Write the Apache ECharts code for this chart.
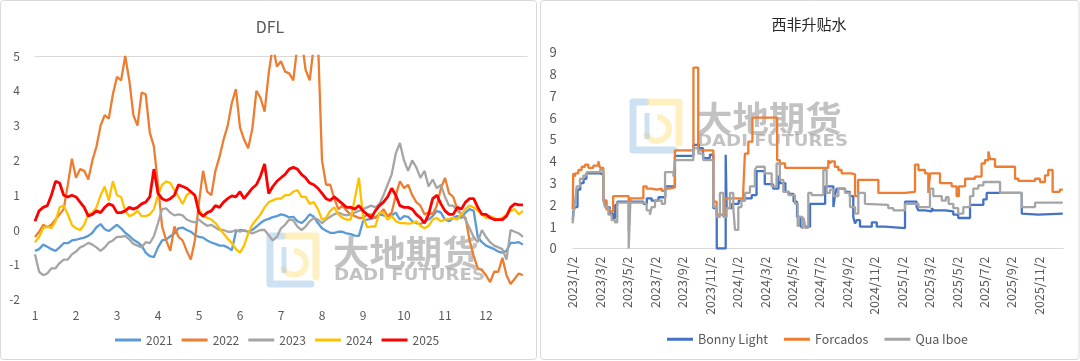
<!DOCTYPE html>
<html><head><meta charset="utf-8">
<script src="https://cdn.jsdelivr.net/npm/echarts@6/dist/echarts.min.js"></script>
<style>html,body{margin:0;padding:0;background:#fff;}#c{width:1080px;height:361px;}</style>
</head><body><div id="c"></div>
<script>
// ---------- Left chart: DFL (x = month position, sampled every 0.1 month from 1.0) ----------
const monthLabels = ['1','2','3','4','5','6','7','8','9','10','11','12'];
const dflStart = 1.0, dflStep = 0.1, dflCount = 120;
const dfl2021 = [-0.6,-0.55,-0.42,-0.48,-0.55,-0.6,-0.5,-0.38,-0.38,-0.3,
 -0.28,-0.25,-0.22,-0.17,-0.08,0.08,0.17,0.02,-0.03,0.06,
 0.15,0.05,-0.08,-0.17,-0.28,-0.35,-0.45,-0.65,-0.75,-0.78,
 -0.5,-0.3,-0.27,-0.18,-0.1,0.05,0.07,0.0,-0.05,-0.15,
 -0.2,-0.22,-0.3,-0.36,-0.4,-0.45,-0.45,-0.5,-0.58,-0.05,
 0.0,-0.02,-0.05,0.0,0.1,0.2,0.28,0.32,0.37,0.4,
 0.45,0.42,0.36,0.38,0.25,0.2,0.3,0.45,0.38,0.2,
 0.05,-0.02,-0.08,-0.08,-0.05,-0.05,-0.1,-0.12,-0.16,-0.17,
 0.25,0.3,0.32,0.36,0.45,0.42,0.4,0.42,0.5,0.3,
 0.4,0.38,0.25,0.2,0.17,0.25,0.3,0.4,0.55,0.5,
 0.3,0.25,0.35,0.4,0.35,0.5,0.6,0.55,-0.2,-0.35,
 -0.45,-0.5,-0.55,-0.62,-0.65,-0.6,-0.37,-0.37,-0.35,-0.42];
const dfl2022 = [-0.2,-0.05,0.15,0.08,0.15,0.3,0.45,0.6,1.3,2.05,
 1.5,1.75,1.7,1.45,2.0,2.4,3.0,3.3,3.2,3.9,
 4.4,4.3,5.0,4.3,3.3,3.0,3.95,3.9,2.8,2.4,
 1.3,0.1,-0.3,-0.6,0.1,-0.2,-0.3,-0.6,-0.85,-0.3,
 0.8,1.7,1.1,1.0,1.7,2.1,2.6,3.0,3.65,4.05,
 2.95,2.6,2.35,2.9,4.0,3.8,3.4,4.5,5.3,4.7,
 4.85,4.55,4.5,4.3,5.3,5.5,4.6,4.3,5.3,5.5,
 2.0,1.3,1.3,0.9,0.6,0.7,0.55,0.45,0.4,0.35,
 0.35,0.45,0.45,0.35,0.45,0.6,0.4,0.5,1.0,1.4,
 1.2,1.3,1.0,0.8,0.7,0.45,0.5,0.45,0.7,1.2,
 1.5,1.05,0.95,0.6,0.45,0.35,-0.3,-0.75,-1.1,-1.15,
 -1.3,-1.5,-1.2,-1.2,-0.8,-1.3,-1.55,-1.4,-1.25,-1.3];
const dfl2023 = [-0.7,-1.2,-1.3,-1.25,-1.1,-1.1,-0.95,-0.85,-0.85,-0.7,
 -0.62,-0.5,-0.45,-0.37,-0.42,-0.5,-0.6,-0.5,-0.36,-0.3,
 -0.2,-0.2,-0.17,-0.27,-0.4,-0.45,-0.5,-0.35,-0.38,-0.18,
 0.2,0.6,0.62,0.5,0.42,0.45,0.42,0.3,0.25,0.22,
 0.3,0.2,0.12,0.15,0.07,0.0,0.0,-0.05,-0.05,0.0,
 -0.05,0.0,-0.05,-0.1,-0.05,0.0,0.0,-0.15,-0.3,-0.2,
 0.05,0.15,0.3,0.28,0.1,0.0,0.1,0.25,0.35,0.3,
 0.2,0.3,0.38,0.45,0.5,0.45,0.42,0.45,0.5,0.55,
 0.6,0.65,0.7,0.65,0.75,1.0,1.3,1.6,2.2,2.5,
 2.0,1.7,2.0,1.8,1.5,1.7,1.25,1.45,1.2,1.3,
 0.95,0.7,0.7,0.55,0.45,0.3,0.05,-0.2,-0.35,0.0,
 -0.2,-0.35,-0.45,-0.5,-0.55,-0.85,0.0,-0.05,-0.1,-0.2];
const dfl2024 = [-0.35,-0.2,0.05,0.1,0.05,0.25,0.65,0.7,0.45,0.15,
 0.05,0.0,0.15,0.45,0.5,0.65,1.0,1.25,0.85,1.4,
 1.0,0.95,0.55,0.4,0.45,0.55,0.4,0.4,0.45,0.6,
 1.0,1.3,1.4,1.35,1.15,0.95,0.75,1.0,1.1,1.0,
 0.6,0.4,0.35,0.3,0.2,0.05,-0.1,-0.25,-0.37,-0.55,
 -0.65,-0.45,-0.1,0.15,0.3,0.45,0.65,0.8,0.85,0.9,
 0.9,1.0,1.0,1.1,1.15,0.95,0.95,0.75,0.8,0.6,
 0.3,0.35,0.55,0.65,0.45,0.35,0.3,0.3,0.9,1.5,
 0.4,0.08,0.1,0.1,0.5,0.5,0.3,0.4,0.25,0.2,
 0.2,0.18,0.2,0.25,0.12,0.05,0.12,0.3,0.35,0.25,
 0.3,0.32,0.35,0.3,0.45,0.6,0.7,0.65,0.55,0.45,
 0.35,0.4,0.35,0.3,0.35,0.45,0.55,0.6,0.45,0.55];
const dfl2025 = [0.25,0.55,0.65,0.7,1.0,1.4,1.35,1.0,0.95,1.0,
 0.95,0.8,0.65,0.4,0.45,0.55,0.5,0.65,0.75,0.7,
 0.5,0.5,0.55,0.65,0.6,0.65,0.75,0.8,0.95,1.75,
 1.05,0.9,0.85,0.9,1.0,1.3,1.25,1.2,1.1,1.0,
 0.5,0.4,0.5,0.55,0.7,0.65,0.8,0.9,0.98,0.95,
 1.1,0.9,1.05,1.2,1.3,1.55,1.9,1.05,1.25,1.4,
 1.5,1.6,1.75,1.8,1.75,1.6,1.5,1.35,1.3,1.2,
 1.05,0.9,0.85,0.95,0.85,0.75,0.65,0.65,0.6,0.7,
 0.55,0.45,0.35,0.55,0.7,0.8,0.95,1.2,1.0,0.7,
 0.65,0.65,0.6,0.45,0.35,0.2,0.45,0.9,1.0,0.75,
 0.55,0.45,0.45,0.65,0.6,0.8,0.9,0.9,0.65,0.45,
 0.45,0.35,0.3,0.3,0.3,0.4,0.65,0.75,0.72,0.72];
const dflNames = ['2021','2022','2023','2024','2025'];

// ---------- Right chart: 西非升贴水 (x = months since 2023/1/2, step change points) ----------
const firstYear = 2023;
const blX = [0,0.05,0.15,0.35,0.55,0.8,1.0,2.0,2.23,2.45,2.7,2.95,3.1,3.25,5.15,5.4,5.75,6.25,6.75,7.45,8.8,9.2,9.5,10.0,10.25,10.5,11.15,11.22,11.6,12.1,12.55,13.05,13.4,14.0,14.6,15.0,15.1,15.5,15.75,16.1,16.35,16.6,16.8,16.9,17.3,18.4,19.0,19.12,19.24,19.85,20.2,20.45,20.58,20.7,20.94,21.8,22.16,22.76,24.22,25.07,25.2,25.68,26.17,26.3,27.13,27.74,28.1,28.96,29.93,30.17,32.73,32.85,33.95,35.72];
const blY = [1.3,1.7,1.9,2.7,3.0,3.2,3.45,3.4,2.2,1.9,1.6,1.4,2.0,2.15,2.05,2.3,2.2,2.35,2.85,4.25,4.75,4.6,4.15,4.3,1.85,0,4.3,1.85,2.05,2.2,2.3,2.45,3.55,2.95,2.75,3.35,3.0,2.6,2.5,2.15,1.45,1.0,1.4,1.0,2.05,2.85,1.9,2.45,2.75,2.6,2.4,1.45,1.15,1.3,1.0,1.2,1.0,0.93,2.15,1.9,1.75,1.7,1.85,1.75,1.7,1.55,1.4,2.0,2.25,2.55,1.6,1.55,1.6,1.6];
const fcX = [0,0.04,0.15,0.2,0.41,0.65,0.9,1.14,1.5,1.87,1.99,2.23,2.45,2.7,2.95,4.08,4.2,5.15,5.39,5.75,6.12,6.49,6.73,7.0,7.45,8.8,9.15,10.25,10.49,11.1,12.43,12.55,12.8,13.1,14.9,15.1,15.48,18.63,18.75,18.85,19.1,19.36,19.6,20.33,20.58,20.8,22.28,24.22,24.95,25.2,25.68,25.92,26.05,26.77,27.62,27.98,28.15,28.6,29.32,29.8,30.05,30.3,30.42,30.78,32.24,32.48,33.7,34.06,34.42,34.66,34.98,35.5,35.72];
const fcY = [1.8,3.45,3.3,3.45,3.6,3.75,3.85,3.7,3.8,4.0,3.7,2.2,1.8,1.7,2.4,0.8,2.3,2.85,2.75,2.7,2.75,2.65,2.75,2.8,4.5,8.3,4.5,2.15,1.55,2.3,2.6,4.35,4.9,6.0,4.05,3.9,3.7,4.05,3.9,4.0,3.75,3.6,3.45,3.4,2.4,3.15,2.55,2.6,3.85,3.6,3.45,2.55,3.45,3.0,2.85,2.4,2.85,3.2,3.3,3.9,4.05,4.45,4.1,3.75,3.2,3.1,3.2,3.05,3.35,3.6,2.6,2.7,2.7];
const qiX = [0,0.04,0.15,0.29,0.53,0.78,1.02,1.99,2.23,2.35,2.6,2.84,3.08,3.25,4.08,4.2,5.15,5.39,5.63,5.75,6.0,6.49,6.73,7.34,7.46,8.79,9.16,9.52,10.25,10.49,10.73,10.98,11.22,11.46,11.7,11.83,12.07,12.3,12.56,12.92,13.28,13.41,14.0,14.5,14.86,15.1,15.35,15.72,16.2,16.4,16.5,16.75,16.85,16.95,17.17,17.41,18.27,18.51,18.75,19.0,19.36,19.85,20.21,20.58,20.82,21.3,21.42,23.0,23.37,24.22,25.2,26.04,26.28,26.9,27.2,27.4,27.74,28.1,28.47,28.96,29.2,29.56,29.93,31.15,32.73,33.7,35.72];
const qiY = [1.15,1.45,2.05,2.85,3.2,3.35,3.5,3.6,2.2,1.9,1.55,1.3,1.2,2.1,0,2.1,2.05,1.75,1.55,1.9,2.2,2.05,3.5,3.3,4.05,4.6,4.35,4.05,1.9,1.45,2.55,1.45,1.85,2.55,1.9,0.85,1.9,2.2,2.55,2.85,3.6,3.75,3.45,2.85,3.9,3.15,2.6,2.45,2.05,1.0,1.45,0.9,1.35,0.95,2.55,2.45,3.6,2.55,2.7,2.4,2.75,2.55,1.9,1.6,2.55,2.05,2.0,1.85,1.75,2.05,1.9,2.75,2.4,2.2,2.35,2.05,1.85,1.6,1.9,2.4,2.75,2.9,3.05,2.55,1.9,2.1,2.1];
const crudeNames = ['Bonny Light','Forcados','Qua Iboe'];

// ---------- build ----------
const FONT = '"Noto Sans CJK SC","Noto Sans",sans-serif';
const AX = '#595959';
const dflX = [];
for (let i = 0; i < dflCount; i++) dflX.push(Math.round((dflStart + i * dflStep) * 10) / 10);
const pairs = (xs, ys) => xs.map((x, i) => [x, ys[i]]);

const dflSeriesData = [dfl2021, dfl2022, dfl2023, dfl2024, dfl2025];
const dflColors = ['#5B9BD5', '#ED7D31', '#A5A5A5', '#FFC000', '#FF0000'];
const crudeData = [[blX, blY], [fcX, fcY], [qiX, qiY]];
const crudeColors = ['#4472C4', '#ED7D31', '#A5A5A5'];

function watermark(x, y) {
  return {
    type: 'group', x: x, y: y, z: 100, silent: true,
    children: [
      { type: 'polyline', shape: { points: [[16,3],[3,3],[3,51],[44,51]] },
        style: { stroke: '#9DC3E6', lineWidth: 7, fill: null, opacity: 0.5, lineJoin: 'round', lineCap: 'round' } },
      { type: 'polyline', shape: { points: [[20,3],[49,3],[49,44]] },
        style: { stroke: '#FFE699', lineWidth: 7, fill: null, opacity: 0.6, lineJoin: 'round', lineCap: 'round' } },
      { type: 'arc', shape: { cx: 27, cy: 30, r: 12, startAngle: -Math.PI / 2, endAngle: Math.PI * 0.9, clockwise: true },
        style: { stroke: '#FFE699', lineWidth: 6, fill: null, opacity: 0.6 } },
      { type: 'line', shape: { x1: 17, y1: 14, x2: 17, y2: 40 },
        style: { stroke: '#9DC3E6', lineWidth: 5, opacity: 0.5 } },
      { type: 'text', x: 66, y: 2, scaleX: 1.04,
        style: { text: '大地期货', fontSize: 35, fontWeight: 'bold', fontFamily: FONT, fill: '#9A9A9A', opacity: 0.6,
                 align: 'left', verticalAlign: 'top', textAlign: 'left', textVerticalAlign: 'top' } },
      { type: 'text', x: 67, y: 36, scaleX: 1.21,
        style: { text: 'DADI FUTURES', fontSize: 15, fontWeight: 'bold', fontFamily: '"DejaVu Sans",sans-serif', fill: '#9A9A9A', opacity: 0.6,
                 align: 'left', verticalAlign: 'top', textAlign: 'left', textVerticalAlign: 'top' } }
    ]
  };
}

const series = [];
dflSeriesData.forEach((arr, k) => {
  series.push({
    name: dflNames[k], type: 'line', xAxisIndex: 0, yAxisIndex: 0,
    data: pairs(dflX, arr), showSymbol: false, symbol: 'none', clip: true,
    lineStyle: { width: k === 4 ? 2.8 : 2.3, color: dflColors[k] }, itemStyle: { color: dflColors[k] },
    z: 2 + k, animation: false
  });
});
crudeData.forEach((d, k) => {
  series.push({
    name: crudeNames[k], type: 'line', xAxisIndex: 2, yAxisIndex: 1, step: 'end',
    data: pairs(d[0], d[1]), showSymbol: false, symbol: 'none', clip: true,
    lineStyle: { width: 2.3, color: crudeColors[k] }, itemStyle: { color: crudeColors[k] },
    z: 2 + k, animation: false
  });
});

const option = {
  animation: false,
  backgroundColor: '#ffffff',
  textStyle: { fontFamily: FONT },
  grid: [
    { left: 35, right: 553, top: 56, bottom: 61.4 },
    { left: 572.7, right: 16.8, top: 52.3, bottom: 112.5 }
  ],
  xAxis: [
    { gridIndex: 0, type: 'value', min: 1, max: 13, interval: 1,
      axisLine: { show: false }, axisTick: { show: false }, splitLine: { show: false },
      axisLabel: { color: AX, fontSize: 12, margin: 10, fontFamily: FONT,
        formatter: v => monthLabels[v - 1] !== undefined ? monthLabels[v - 1] : '' } },
    { gridIndex: 0, type: 'value', min: 1, max: 13, position: 'top',
      axisLine: { show: true, onZero: true, lineStyle: { color: '#D9D9D9', width: 1 } },
      axisTick: { show: false }, axisLabel: { show: false }, splitLine: { show: false } },
    { gridIndex: 1, type: 'value', min: 0, max: 35.75, interval: 2,
      axisLine: { show: true, lineStyle: { color: '#D9D9D9', width: 1 } },
      axisTick: { show: false }, splitLine: { show: false },
      axisLabel: { color: AX, fontSize: 12.5, rotate: 90, margin: 8, fontFamily: FONT,
        formatter: v => (Math.abs(v % 2) < 1e-6 && v <= 34) ? (firstYear + Math.floor(v / 12)) + '/' + (v % 12 + 1) + '/2' : '' } }
  ],
  yAxis: [
    { gridIndex: 0, type: 'value', min: -2, max: 5, interval: 1,
      axisLine: { show: false }, axisTick: { show: false }, splitLine: { show: false },
      axisLabel: { color: AX, fontSize: 12, margin: 15, fontFamily: FONT } },
    { gridIndex: 1, type: 'value', min: 0, max: 9, interval: 1,
      axisLine: { show: false }, axisTick: { show: false }, splitLine: { show: false },
      axisLabel: { color: AX, fontSize: 13, margin: 16, fontFamily: FONT } }
  ],
  legend: [
    { data: dflNames, left: 110, top: 329, itemWidth: 26, itemHeight: 3, itemGap: 9, icon: 'rect',
      textStyle: { color: AX, fontSize: 12, fontFamily: FONT } },
    { data: crudeNames, left: 662, top: 328, itemWidth: 26, itemHeight: 3, itemGap: 16, icon: 'rect',
      textStyle: { color: AX, fontSize: 12.5, fontFamily: FONT } }
  ],
  graphic: [
    { type: 'rect', shape: { x: 0.5, y: 0.5, width: 536, height: 359, r: 3 }, style: { fill: null, stroke: '#D9D9D9', lineWidth: 1 }, silent: true },
    { type: 'rect', shape: { x: 540.5, y: 0.5, width: 538.5, height: 359, r: 3 }, style: { fill: null, stroke: '#D9D9D9', lineWidth: 1 }, silent: true },
    { type: 'text', x: 270, y: 27, silent: true,
      style: { text: 'DFL', fontSize: 16, fontFamily: FONT, fill: AX, align: 'center', verticalAlign: 'middle', textAlign: 'center', textVerticalAlign: 'middle' } },
    { type: 'text', x: 809, y: 24.5, silent: true,
      style: { text: '西非升贴水', fontSize: 15, fontFamily: FONT, fill: '#262626', align: 'center', verticalAlign: 'middle', textAlign: 'center', textVerticalAlign: 'middle' } },
    watermark(267, 233),
    watermark(630, 99)
  ],
  series: series
};

const chart = echarts.init(document.getElementById('c'), null, { renderer: 'canvas', width: 1080, height: 361 });
chart.setOption(option);
</script>
</body></html>
